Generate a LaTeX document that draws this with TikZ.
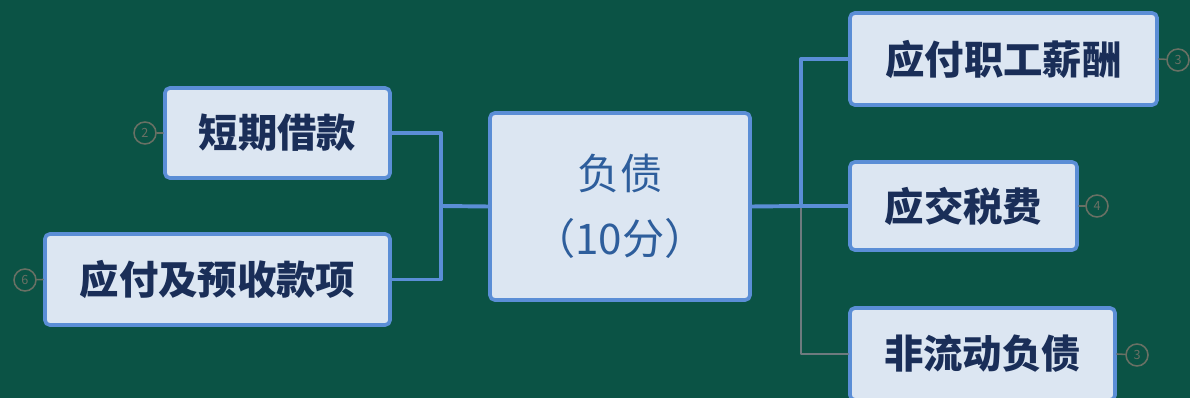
\documentclass[tikz,border=0pt]{standalone}
\usepackage{fontspec}
\newfontfamily\cjk{Noto Sans CJK SC}
\definecolor{bgteal}{RGB}{11,83,69}
\definecolor{boxfill}{RGB}{220,230,242}
\definecolor{boxline}{RGB}{91,142,214}
\definecolor{boxtext}{RGB}{26,46,88}
\definecolor{roottext}{RGB}{46,94,156}
\definecolor{badgeline}{RGB}{105,112,100}
\definecolor{greyline}{RGB}{110,122,126}
\begin{document}
\begin{tikzpicture}[x=0.025cm,y=-0.025cm, line join=round, line cap=round,
	topic/.style={draw=boxline, line width=2.6pt, fill=boxfill, rounded corners=3.5pt, inner sep=0pt, text=boxtext, font=\cjk\bfseries\fontsize{28}{34}\selectfont},
	link/.style={draw=boxline, line width=2.8pt},
	badge/.style={circle, draw=badgeline, line width=1.1pt, minimum size=0.55cm, inner sep=0pt, text=badgeline, font=\cjk\fontsize{9}{10}\selectfont}]
	\fill[bgteal] (0,0) rectangle (1190,398);
	\useasboundingbox (0,0) rectangle (1190,398);
	% centre
	\node[topic, minimum width=6.5cm, minimum height=4.675cm, align=center, text=roottext, font=\cjk\fontsize{30}{46}\selectfont] (root) at (620,206.5) {负债\\（10分）};
	% left side
	\node[topic, minimum width=5.625cm, minimum height=2.25cm] (loan) at (277.5,133) {短期借款};
	\node[topic, minimum width=8.625cm, minimum height=2.275cm] (payable) at (217.5,279.5) {应付及预收款项};
	% right side
	\node[topic, minimum width=7.675cm, minimum height=2.3cm] (salary) at (1003.5,59) {应付职工薪酬};
	\node[topic, minimum width=5.675cm, minimum height=2.2cm] (tax) at (963.5,206) {应交税费};
	\node[topic, minimum width=6.625cm, minimum height=2.3cm] (noncur) at (982.5,354) {非流动负债};
	% joints
	\coordinate (jleft) at (441,206);
	\coordinate (jright) at (801,206);
	\draw[link] (root.west)--(jleft);
	\draw[link] (loan.east)-|(jleft)|-(payable.east);
	\draw[greyline, line width=1.3pt] (jright)|-(noncur.west);
	\draw[link] (root.east)--(jright);
	\draw[link] (jright)|-(salary.west);
	\draw[link] (jright)--(tax.west);
	% score badges
	\node[badge] (nloan) at (145,133) {2};
	\node[badge] (npayable) at (25,280) {6};
	\node[badge] (nsalary) at (1178,60) {3};
	\node[badge] (ntax) at (1097,206) {4};
	\node[badge] (nnoncur) at (1137,355) {3};
	\draw[badgeline, line width=1.1pt]
	(nloan)--(loan.west)
	(npayable)--(payable.west)
	(nsalary)--(salary.east)
	(ntax)--(tax.east)
	(nnoncur)--(noncur.east)
	;
\end{tikzpicture}
\end{document}
